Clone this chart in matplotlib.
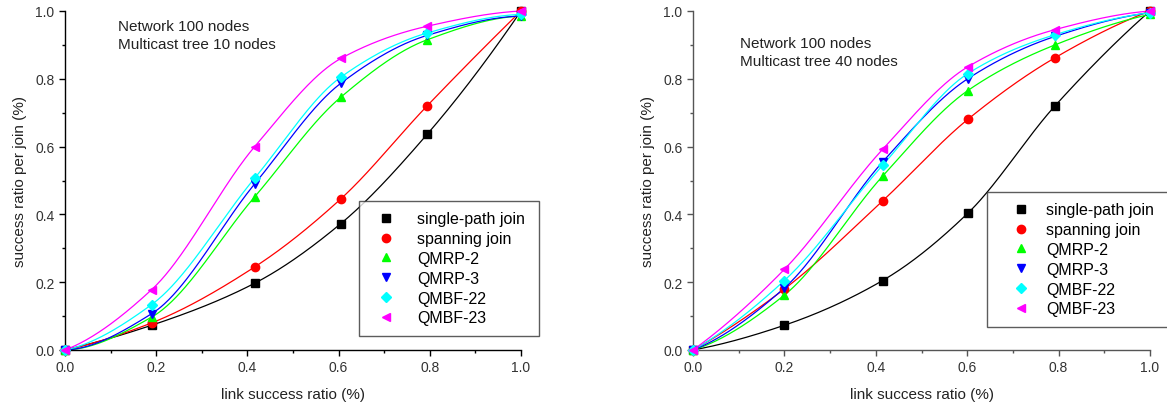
import numpy as np
import matplotlib
matplotlib.use("Agg")
import matplotlib.pyplot as plt
from matplotlib.ticker import MultipleLocator

plt.rcParams['font.family'] = ['Liberation Sans', 'DejaVu Sans']

# data
series_names = ["single-path join", "spanning join", "QMRP-2", "QMRP-3", "QMBF-22", "QMBF-23"]
series_colors = ["#000000", "#ff0000", "#00ff00", "#0000ff", "#00ffff", "#ff00ff"]
series_markers = ["s", "o", "^", "v", "D", "<"]

x_tree10 = [0.0, 0.19, 0.416, 0.605, 0.794, 1.0]
tree10_single = [0.0, 0.073, 0.197, 0.373, 0.636, 1.0]
tree10_spanning = [0.0, 0.080, 0.245, 0.446, 0.720, 1.0]
tree10_qmrp2 = [0.0, 0.097, 0.452, 0.746, 0.915, 0.985]
tree10_qmrp3 = [0.0, 0.107, 0.490, 0.787, 0.928, 0.985]
tree10_qmbf22 = [0.0, 0.134, 0.507, 0.805, 0.935, 0.990]
tree10_qmbf23 = [0.0, 0.178, 0.600, 0.860, 0.955, 1.0]

x_tree40 = [0.0, 0.20, 0.415, 0.601, 0.792, 1.0]
tree40_single = [0.0, 0.073, 0.205, 0.403, 0.720, 1.0]
tree40_spanning = [0.0, 0.180, 0.440, 0.680, 0.862, 1.0]
tree40_qmrp2 = [0.0, 0.162, 0.513, 0.765, 0.900, 0.990]
tree40_qmrp3 = [0.0, 0.183, 0.555, 0.800, 0.925, 0.995]
tree40_qmbf22 = [0.0, 0.205, 0.545, 0.815, 0.930, 0.995]
tree40_qmbf23 = [0.0, 0.238, 0.592, 0.835, 0.945, 1.0]

panels = [
    {
        "x": x_tree10,
        "ys": [tree10_single, tree10_spanning, tree10_qmrp2, tree10_qmrp3, tree10_qmbf22, tree10_qmbf23],
        "note": "Network 100 nodes\nMulticast tree 10 nodes",
    },
    {
        "x": x_tree40,
        "ys": [tree40_single, tree40_spanning, tree40_qmrp2, tree40_qmrp3, tree40_qmbf22, tree40_qmbf23],
        "note": "Network 100 nodes\nMulticast tree 40 nodes",
    },
]


def pchip(x, y, xs):
    """Monotone cubic (Fritsch-Carlson) curve through the points."""
    x = np.asarray(x, float)
    y = np.asarray(y, float)
    h = np.diff(x)
    d = np.diff(y) / h
    m = np.zeros_like(y)
    for k in range(1, len(x) - 1):
        if d[k - 1] * d[k] > 0:
            w1 = 2 * h[k] + h[k - 1]
            w2 = h[k] + 2 * h[k - 1]
            m[k] = (w1 + w2) / (w1 / d[k - 1] + w2 / d[k])
    m[0] = ((2 * h[0] + h[1]) * d[0] - h[0] * d[1]) / (h[0] + h[1])
    if m[0] * d[0] <= 0:
        m[0] = 0
    m[-1] = ((2 * h[-1] + h[-2]) * d[-1] - h[-1] * d[-2]) / (h[-1] + h[-2])
    if m[-1] * d[-1] <= 0:
        m[-1] = 0
    idx = np.clip(np.searchsorted(x, xs) - 1, 0, len(x) - 2)
    t = (xs - x[idx]) / h[idx]
    h00 = 2 * t**3 - 3 * t**2 + 1
    h10 = t**3 - 2 * t**2 + t
    h01 = -2 * t**3 + 3 * t**2
    h11 = t**3 - t**2
    return h00 * y[idx] + h10 * h[idx] * m[idx] + h01 * y[idx + 1] + h11 * h[idx] * m[idx + 1]


W, H = 1167, 406
fig = plt.figure(figsize=(W / 100, H / 100), dpi=100)
fig.patch.set_facecolor('white')

# axes boxes in pixels: (left, top, right, bottom)
ax_boxes = [(65, 12, 521, 351), (693, 12, 1150, 351)]
legend_boxes = [(359, 202, 539), (987, 193, 1190)]
note_pos = [(118, 20), (740, 37)]
spine_colors = ["#000000", "#555555"]
legend_handle = [(2.1, 0.9), (3.0, 0.05)]

for i, panel in enumerate(panels):
    l, t, r, b = ax_boxes[i]
    ax = fig.add_axes([l / W, 1 - b / H, (r - l) / W, (b - t) / H])
    xs = np.asarray(panel["x"])
    xfit = np.linspace(0, 1, 300)
    for name, col, mk, ys in zip(series_names, series_colors, series_markers, panel["ys"]):
        ax.plot(xfit, pchip(xs, ys, xfit), color=col, lw=0.9, clip_on=False)
        ax.plot(xs, ys, linestyle='none', marker=mk, color=col, markersize=6 if mk != "D" else 5.5,
                label=name, clip_on=False, zorder=3)

    ax.set_xlim(0, 1.0)
    ax.set_ylim(0, 1.0)
    ax.xaxis.set_major_locator(MultipleLocator(0.2))
    ax.xaxis.set_minor_locator(MultipleLocator(0.1))
    ax.yaxis.set_major_locator(MultipleLocator(0.2))
    ax.yaxis.set_minor_locator(MultipleLocator(0.1))
    ax.xaxis.set_major_formatter(plt.FormatStrFormatter('%.1f'))
    ax.yaxis.set_major_formatter(plt.FormatStrFormatter('%.1f'))
    for s in ['top', 'right']:
        ax.spines[s].set_visible(False)
    for s in ['left', 'bottom']:
        ax.spines[s].set_color(spine_colors[i])
        ax.spines[s].set_linewidth(1.0)
    ax.tick_params(which='major', direction='out', length=4, width=1, colors=spine_colors[i],
                   labelsize=10, labelcolor='#333333')
    ax.tick_params(which='minor', direction='out', length=2.5, width=1, colors=spine_colors[i])
    ax.set_xlabel("link success ratio (%)", fontsize=11, color='#222222', labelpad=9)
    ax.set_ylabel("success ratio per join (%)", fontsize=11, color='#222222', labelpad=6)

    nx, ny = note_pos[i]
    fig.text(nx / W, 1 - ny / H, panel["note"], fontsize=11, color='#222222',
             ha='left', va='top', linespacing=1.4)

    lx0, ly0, lx1 = legend_boxes[i]
    hl, hp = legend_handle[i]
    leg = ax.legend(loc='upper left', bbox_to_anchor=(lx0 / W, 1 - ly0 / H, (lx1 - lx0) / W, 0.0),
                    bbox_transform=fig.transFigure, mode='expand', borderaxespad=0,
                    fontsize=11.5, frameon=True, fancybox=False, edgecolor='#333333',
                    handlelength=hl, handletextpad=hp, labelspacing=0.3, borderpad=0.65)
    leg.get_frame().set_linewidth(1.0)

fig.savefig("out.png", dpi=100)
